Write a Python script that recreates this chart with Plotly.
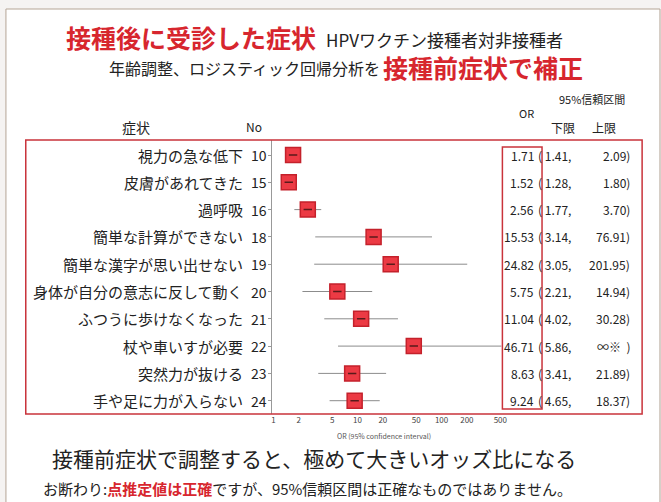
import math
import plotly.graph_objects as go

# ---- data ----
symptoms = ["視力の急な低下", "皮膚があれてきた", "過呼吸", "簡単な計算ができない",
            "簡単な漢字が思い出せない", "身体が自分の意志に反して動く", "ふつうに歩けなくなった",
            "杖や車いすが必要", "突然力が抜ける", "手や足に力が入らない"]
nos = [10, 15, 16, 18, 19, 20, 21, 22, 23, 24]
or_vals = [1.71, 1.52, 2.56, 15.53, 24.82, 5.75, 11.04, 46.71, 8.63, 9.24]
ci_low = [1.41, 1.28, 1.77, 3.14, 3.05, 2.21, 4.02, 5.86, 3.41, 4.65]
ci_high = [2.09, 1.80, 3.70, 76.91, 201.95, 14.94, 30.28, None, 21.89, 18.37]  # None = unbounded
x_ticks = [1, 2, 5, 10, 20, 50, 100, 200, 500]

W, H = 661, 502
RED = "#d7262e"
FONT = "Noto Sans CJK JP"
TXT = "#222222"
NBSP = "\u00a0"


def px(x):
    return x / W


def py(y):
    return 1 - y / H


rows = list(range(len(symptoms)))
x_left_log, x_right_log = -0.0236, 2.712
open_end = 10 ** (x_right_log + 0.5)

fig = go.Figure()

# confidence interval segments
seg_x, seg_y = [], []
for i, (lo, hi) in enumerate(zip(ci_low, ci_high)):
    seg_x += [lo, hi if hi is not None else open_end, None]
    seg_y += [i, i, None]
fig.add_trace(go.Scatter(x=seg_x, y=seg_y, mode="lines",
                         line=dict(color="#8c8c8c", width=1), hoverinfo="skip",
                         showlegend=False))

# point estimates
fig.add_trace(go.Scatter(x=or_vals, y=rows, mode="markers",
                         marker=dict(symbol="square", size=15, color="#ec3a44",
                                     line=dict(color="#c4212b", width=1.5)),
                         showlegend=False))
fig.add_trace(go.Scatter(x=or_vals, y=rows, mode="markers",
                         marker=dict(symbol="line-ew", size=6,
                                     line=dict(color="#5a1a1a", width=1.5)),
                         showlegend=False, hoverinfo="skip"))

annotations = []


def add_text(text, x, y, size, color=TXT, xanchor="center", xref="paper", yref="paper", bold=False):
    if bold:
        text = f"<b>{text}</b>"
    annotations.append(dict(text=text, x=x, y=y, xref=xref, yref=yref,
                            xanchor=xanchor, yanchor="middle", showarrow=False,
                            font=dict(family=FONT, size=size, color=color)))


# titles
add_text("接種後に受診した症状", px(65), py(37), 25, RED, "left", bold=True)
add_text("HPVワクチン接種者対非接種者", px(327), py(39), 17, TXT, "left")
add_text("年齢調整、ロジスティック回帰分析を", px(108), py(68), 16, TXT, "left")
add_text("接種前症状で補正", px(384), py(67), 25, RED, "left", bold=True)

# column headers
add_text("症状", px(137), py(127), 14)
add_text("No", px(256), py(126), 12)
add_text("OR", px(531), py(113), 11)
add_text("95%信頼区間", px(597), py(99), 11)
add_text("下限", px(568), py(127), 12)
add_text("上限", px(610), py(127), 12)

# row labels and values
for i in rows:
    add_text(symptoms[i], px(247), i, 15, TXT, "right", yref="y")
    add_text(str(nos[i]), px(251), i, 14, TXT, "left", yref="y")
    add_text(f"{or_vals[i]:.2f}", px(541), i, 12, TXT, "right", yref="y")
    add_text(f"({NBSP}{ci_low[i]:.2f},", px(541), i, 12, TXT, "left", yref="y")
    upper = f"{ci_high[i]:.2f})" if ci_high[i] is not None else f"∞※{NBSP}{NBSP})"
    add_text(upper, px(638), i, 12, TXT, "right", yref="y")

# axis caption
add_text("OR (95% confidence interval)", px(388), py(436), 7, "#555555")

# footer
add_text("接種前症状で調整すると、極めて大きいオッズ比になる", px(317), py(458), 21)
add_text("お断わり:<span style='color:%s'><b>点推定値は正確</b></span>ですが、95%%信頼区間は正確なものではありません。" % RED,
         px(310), py(488), 15)

shapes = [
    # page sheet
    dict(type="rect", xref="paper", yref="paper", x0=px(6), x1=px(W + 5), y0=py(H + 5), y1=py(9),
         line=dict(color="#b5a596", width=1), fillcolor="white", layer="below"),
    # outer red frame
    dict(type="rect", xref="paper", yref="paper", x0=px(26), x1=px(648), y0=py(414), y1=py(140),
         line=dict(color="#c9333b", width=1.5)),
    # OR column frame
    dict(type="rect", xref="paper", yref="paper", x0=px(507), x1=px(547), y0=py(409), y1=py(147),
         line=dict(color="#c9333b", width=1.5)),
]

row_top, row_step = 155, 27.3
y_top = (140 - row_top) / row_step
y_bot = (414 - row_top) / row_step

fig.update_layout(
    width=W, height=H, margin=dict(l=0, r=0, t=0, b=0),
    paper_bgcolor="#f5f3f2", plot_bgcolor="rgba(0,0,0,0)",
    annotations=annotations, shapes=shapes, showlegend=False,
    xaxis=dict(type="log", domain=[px(274), px(506)], range=[x_left_log, x_right_log],
               tickvals=x_ticks, ticktext=[str(t) for t in x_ticks],
               tickfont=dict(family=FONT, size=8, color="#444444"),
               showgrid=False, zeroline=False, showline=False, ticks=""),
    yaxis=dict(domain=[py(414), py(140)], range=[y_bot, y_top],
               tickvals=rows, showticklabels=False, ticks="outside", ticklen=3,
               tickcolor="#999999", showline=True, linecolor="#999999", linewidth=1,
               showgrid=False, zeroline=False),
)

fig.write_html("out.html")
